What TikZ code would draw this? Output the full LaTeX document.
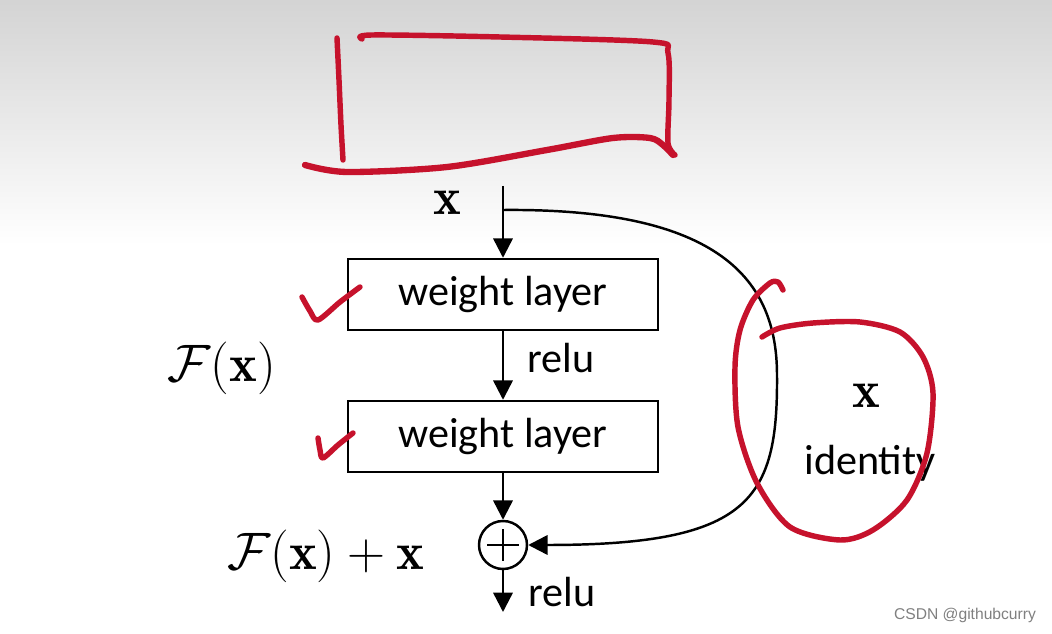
\documentclass[tikz,border=0pt]{standalone}
\usepackage{fix-cm}
\usepackage{fontspec}
\newfontfamily\calib{Carlito}
\newfontfamily\wmfont{Liberation Sans}
\usetikzlibrary{arrows.meta,shadings}
\definecolor{ink}{RGB}{198,18,44}
\tikzset{
  layerbox/.style={draw, line width=1.4pt, minimum width=6.2cm, minimum height=1.42cm, inner sep=0pt, font=\calib\fontsize{24}{26}\selectfont},
  lbl/.style={font=\calib\fontsize{24}{26}\selectfont, inner sep=0pt},
  mathlbl/.style={font=\fontsize{30}{32}\selectfont, inner sep=0pt},
  arr/.style={line width=1.4pt, -{Triangle[length=11pt,width=11pt]}},
  pen/.style={draw=ink, line width=3.1pt, line cap=round, line join=round}
}
\begin{document}
\begin{tikzpicture}[x=0.02cm,y=-0.02cm]
\useasboundingbox (0,0) rectangle (1052,634);
\fill[white] (0,0) rectangle (1052,634);
\shade[top color=black!17, bottom color=white] (0,0) rectangle (1052,245);

% main nodes
\coordinate (xin) at (503,186);
\coordinate (split) at (503,210);
\node[layerbox] (w1) at (503,294.5) {weight layer};
\node[layerbox] (w2) at (503,436.5) {weight layer};
\node[draw, circle, line width=1.4pt, minimum size=0.96cm, inner sep=0pt] (sum) at (503,545) {};
\draw[line width=1.4pt] ([xshift=-9pt]sum.center) -- ([xshift=9pt]sum.center);
\draw[line width=1.4pt] ([yshift=-9pt]sum.center) -- ([yshift=9pt]sum.center);
\coordinate (out) at (503,612);

% labels
\node[mathlbl] (xlab) at (447,203) {$\mathbf{x}$};
\node[lbl] (relu1) at (561,358) {relu};
\node[lbl] (relu2) at (562,592) {relu};
\node[mathlbl] (Fx) at (222,368) {$\mathcal{F}(\mathbf{x})$};
\node[mathlbl] (Fxx) at (326,556) {$\mathcal{F}(\mathbf{x})+\mathbf{x}$};
\node[mathlbl] (xid) at (866,396) {$\mathbf{x}$};
\node[lbl] (ident) at (870,463) {identity};

% connectors
\draw[arr] (xin) -- (w1.north);
\draw[arr] (w1.south) -- (w2.north);
\draw[arr] (w2.south) -- (sum.north);
\draw[arr] (sum.south) -- (out);
\draw[arr] (split) .. controls (720,208) and (777,280) .. (777,375)
  .. controls (778,500) and (750,545) .. (sum.east);

% red annotations
\draw[pen] plot[smooth] coordinates {(337,38) (339,80) (341,125) (343,160)};
\draw[pen] plot[smooth] coordinates {(362,39) (372,35) (500,37) (653,42) (668,53) (669,100) (668,143) (675,155)};
\draw[pen, line width=3.6pt] plot[smooth] coordinates {(305,165) (347,172) (447,167) (547,150) (613,138) (650,138) (663,145) (673,155)};
\draw[pen] plot[smooth] coordinates {(302,297) (310,311) (318,320) (340,302) (360,287)};
\draw[pen] plot[smooth] coordinates {(318,438) (320,450) (323,458) (338,445) (353,433)};
\draw[pen] plot[smooth] coordinates {(783,290) (778,282) (770,283) (753,300) (740,330) (735,367) (738,427) (757,483) (790,527) (840,540) (873,530) (907,500) (927,453) (933,393) (923,357) (900,332) (860,322) (813,323) (780,328) (762,337)};

% watermark
\node[font=\wmfont\fontsize{8.9}{10}\selectfont, text=black!50, inner sep=0pt] (wm) at (965,615) {CSDN @githubcurry};
\end{tikzpicture}
\end{document}
